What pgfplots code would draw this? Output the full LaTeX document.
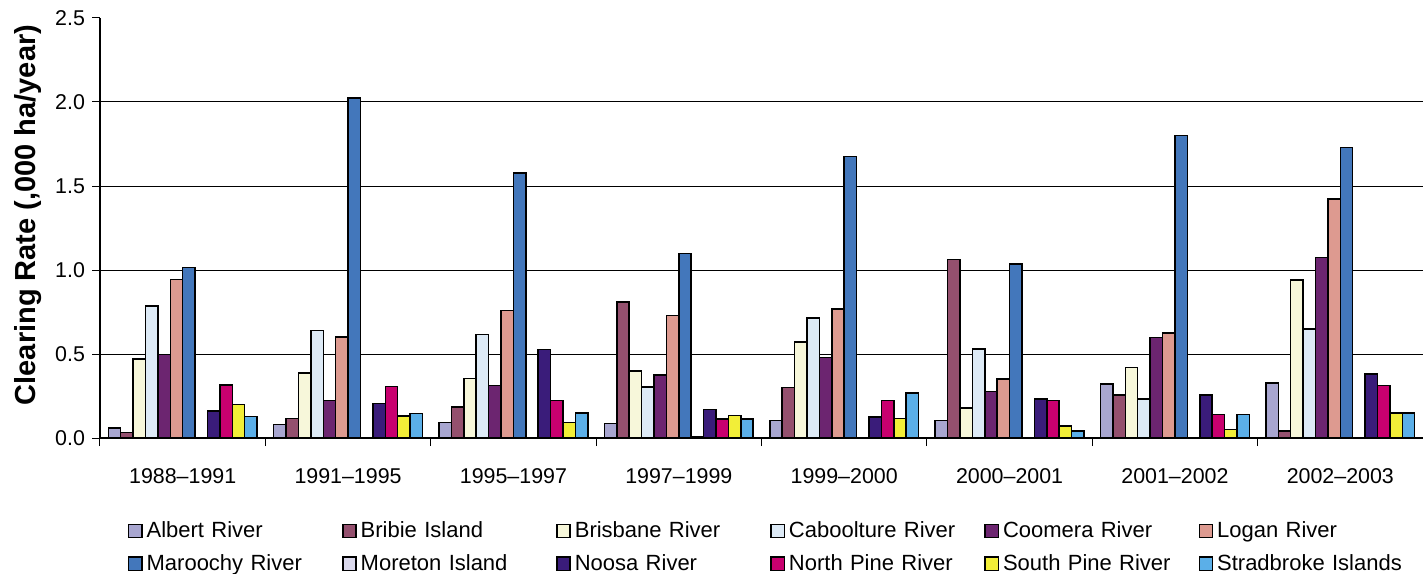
\documentclass[border=0pt]{standalone}
\usepackage{fontspec}
\setmainfont{Liberation Sans}
\usepackage{pgfplots}
\pgfplotsset{compat=1.18}
\usepackage{pgfplotstable}

\definecolor{cAlbert}{HTML}{A8A6D0}
\definecolor{cBribie}{HTML}{94506E}
\definecolor{cBrisbane}{HTML}{F7F7DA}
\definecolor{cCaboolture}{HTML}{DDEAF6}
\definecolor{cCoomera}{HTML}{6C2570}
\definecolor{cLogan}{HTML}{DD9A90}
\definecolor{cMaroochy}{HTML}{4377BB}
\definecolor{cMoreton}{HTML}{DAD8EC}
\definecolor{cNoosa}{HTML}{3A1C7A}
\definecolor{cNorthPine}{HTML}{C8006F}
\definecolor{cSouthPine}{HTML}{F2EE38}
\definecolor{cStradbroke}{HTML}{5BAFE8}

\pgfplotstableread{
x Albert Bribie Brisbane Caboolture Coomera Logan Maroochy Moreton Noosa NorthPine SouthPine Stradbroke
0 0.060 0.034 0.470 0.786 0.496 0.942 1.014 0     0.162 0.316 0.200 0.128
1 0.079 0.115 0.387 0.639 0.222 0.601 2.024 0     0.206 0.306 0.131 0.145
2 0.093 0.185 0.355 0.617 0.312 0.760 1.577 0     0.526 0.222 0.093 0.149
3 0.087 0.809 0.400 0.304 0.376 0.728 1.097 0.005 0.169 0.113 0.133 0.113
4 0.105 0.302 0.571 0.715 0.480 0.769 1.676 0     0.125 0.223 0.115 0.267
5 0.105 1.062 0.179 0.531 0.278 0.350 1.036 0     0.233 0.223 0.070 0.042
6 0.321 0.257 0.420 0.232 0.598 0.626 1.800 0     0.257 0.139 0.050 0.139
7 0.328 0.042 0.939 0.650 1.073 1.423 1.729 0     0.381 0.312 0.148 0.148
}\data

\begin{document}
\begin{tikzpicture}
\begin{axis}[
  at={(0,0)}, anchor=south west,
  scale only axis, width=661.5pt, height=210pt,
  ybar=0pt, bar width=0.075,
  xmin=-0.5, xmax=7.5, ymin=0, ymax=2.5,
  axis x line*=bottom, axis y line*=left,
  axis line style={black, line width=0.6pt},
  xtick={-0.5,0.5,...,7.5},
  x tick label as interval,
  xticklabels={1988–1991,1991–1995,1995–1997,1997–1999,1999–2000,2000–2001,2001–2002,2002–2003},
  ytick={0,0.5,...,2.5},
  extra y ticks={0.5,1,1.5,2}, extra y tick labels={},
  extra y tick style={grid=major, major tick length=0pt},
  grid style={black, line width=0.5pt},
  tick align=outside, major tick length=4pt,
  tick style={black, line width=0.5pt},
  /pgf/number format/assume math mode=true,
  yticklabel style={/pgf/number format/.cd, fixed, fixed zerofill, precision=1, /tikz/.cd, font=\fontsize{10.7}{12}\selectfont},
  xticklabel style={font=\fontsize{10.7}{12}\selectfont, yshift=-7.5pt},
  every axis y label/.style={at={(axis description cs:-0.0544,0.531)}, rotate=90, anchor=center},
  ylabel={Clearing Rate (,000 ha/year)},
  ylabel style={font=\bfseries\fontsize{14.5}{17}\selectfont},
  legend columns=6,
  legend cell align=left,
  legend style={at={(axis description cs:0.0212,-0.189)}, anchor=north west, draw=none, inner sep=0pt, outer sep=0pt,
    font=\fontsize{11}{12.5}\selectfont, row sep=3pt,
    /tikz/every even column/.append style={column sep=0pt, text width=95.75pt, inner xsep=3.3pt, inner ysep=4.3pt}},
  legend image code/.code={\draw[#1, line width=0.7pt] (0pt,-3.3pt) rectangle (6.6pt,3.3pt);},
]
\addplot[fill=cAlbert, draw=black, line width=0.75pt] table[x=x,y=Albert]{\data};
\addplot[fill=cBribie, draw=black, line width=0.75pt] table[x=x,y=Bribie]{\data};
\addplot[fill=cBrisbane, draw=black, line width=0.75pt] table[x=x,y=Brisbane]{\data};
\addplot[fill=cCaboolture, draw=black, line width=0.75pt] table[x=x,y=Caboolture]{\data};
\addplot[fill=cCoomera, draw=black, line width=0.75pt] table[x=x,y=Coomera]{\data};
\addplot[fill=cLogan, draw=black, line width=0.75pt] table[x=x,y=Logan]{\data};
\addplot[fill=cMaroochy, draw=black, line width=0.75pt] table[x=x,y=Maroochy]{\data};
\addplot[fill=cMoreton, draw=black, line width=0.75pt] table[x=x,y=Moreton]{\data};
\addplot[fill=cNoosa, draw=black, line width=0.75pt] table[x=x,y=Noosa]{\data};
\addplot[fill=cNorthPine, draw=black, line width=0.75pt] table[x=x,y=NorthPine]{\data};
\addplot[fill=cSouthPine, draw=black, line width=0.75pt] table[x=x,y=SouthPine]{\data};
\addplot[fill=cStradbroke, draw=black, line width=0.75pt] table[x=x,y=Stradbroke]{\data};
\legend{Albert River,Bribie Island,Brisbane River,Caboolture River,Coomera River,Logan River,Maroochy River,Moreton Island,Noosa River,North Pine River,South Pine River,Stradbroke Islands}
\end{axis}
\pgfresetboundingbox
\useasboundingbox (-50pt,-67.5pt) rectangle (661.5pt,219pt);
\end{tikzpicture}
\end{document}
